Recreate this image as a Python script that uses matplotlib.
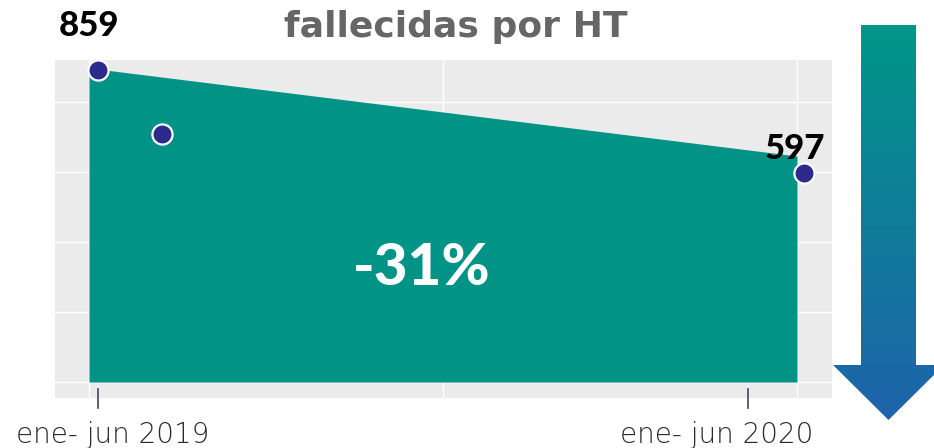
import matplotlib
matplotlib.use("Agg")
import matplotlib.pyplot as plt
import numpy as np
from matplotlib.patches import Polygon
from matplotlib.colors import LinearSegmentedColormap

# ---------------- data ----------------
categories = ["ene- jun 2019", "ene- jun 2020"]
area_values = [859, 597]          # area series (first / last period)
point_values = [859, 696, 597]    # dots drawn on the chart
point_labels = ["859", "", "597"]
change_label = "-31%"
title = "fallecidas por HT"

# ---------------- style / layout ----------------
W, H = 934, 448
TEAL = "#009386"
DOT = "#2c2a8c"
PANEL = "#ebebeb"
FONT = "Lato"

fig = plt.figure(figsize=(W / 100, H / 100), dpi=100)
fig.patch.set_facecolor("white")
rect = [55 / W, 50 / H, 777 / W, 338 / H]

# background panel + grid
axg = fig.add_axes(rect, zorder=0)
axg.set_facecolor(PANEL)
axg.set_xlim(-0.048, 1.0494)
axg.set_ylim(-45.7, 920)
axg.set_xticks([0, 0.5, 1])
axg.set_yticks([0, 200, 400, 600, 800])
axg.grid(True, color="white", linewidth=1.0)
axg.tick_params(length=0, labelbottom=False, labelleft=False)
for s in axg.spines.values():
    s.set_visible(False)

# area layer
axa = fig.add_axes(rect, zorder=1)
axa.patch.set_alpha(0)
axa.set_xlim(-0.048, 1.0494)
axa.set_ylim(-123.5, 882.8)
area_x = np.arange(len(area_values))
axa.fill_between(area_x, area_values, -76, color=TEAL, linewidth=0)
axa.axis("off")

# points layer
axp = fig.add_axes(rect, zorder=2)
axp.patch.set_alpha(0)
axp.set_xlim(-0.0609, 1.0397)
axp.set_ylim(24.7, 884.4)
point_x = [0, 0.09, 1]
axp.scatter(point_x, point_values, s=210, color=DOT, edgecolor="white",
            linewidth=1.6, zorder=3, clip_on=False)
label_offsets = [(-6.5, 24.5), None, (-6.5, 10)]
for x, v, lab, off in zip(point_x, point_values, point_labels, label_offsets):
    if lab:
        axp.annotate(lab, (x, v), xytext=off, textcoords="offset points",
                     ha="center", va="baseline", fontsize=25,
                     fontweight="black", family=FONT, color="black",
                     annotation_clip=False)
axp.axis("off")

# x ticks (marks) and labels
tick_pos_px = [98, 748]
label_center_px = [113, 717]
for tx in tick_pos_px:
    fig.add_artist(plt.Line2D([tx / W, tx / W], [1 - 389 / H, 1 - 408 / H],
                              color="#3b4763", linewidth=1.2))
for cx, lab in zip(label_center_px, categories):
    fig.text(cx / W, 1 - 443 / H, lab, ha="center", va="baseline",
             fontsize=20, family="DejaVu Sans", fontweight="light",
             color="#2a2a2a")

# title
fig.text(456 / W, 1 - 37 / H, title, ha="center", va="baseline",
         fontsize=26, fontweight="bold", family="DejaVu Sans", color="#666666")

# change label
fig.text(422 / W, 1 - 285 / H, change_label, ha="center", va="baseline",
         fontsize=42, fontweight="black", family=FONT, color="white", zorder=5)

# decorative gradient arrow
axo = fig.add_axes([0, 0, 1, 1], zorder=4)
axo.set_xlim(0, W)
axo.set_ylim(H, 0)
axo.axis("off")
axo.patch.set_alpha(0)
verts = [(861, 25), (916, 25), (916, 365), (944, 365), (888.5, 420),
         (833, 365), (861, 365)]
poly = Polygon(verts, closed=True, facecolor="none", edgecolor="none")
axo.add_patch(poly)
cmap = LinearSegmentedColormap.from_list("arr", ["#009688", "#1f63ab"])
grad = np.linspace(0, 1, 256).reshape(-1, 1)
im = axo.imshow(grad, cmap=cmap, extent=(833, 944, 420, 25), aspect="auto",
                origin="upper")
im.set_clip_path(poly)
axo.set_xlim(0, W)
axo.set_ylim(H, 0)

fig.savefig("out.png", dpi=100)
